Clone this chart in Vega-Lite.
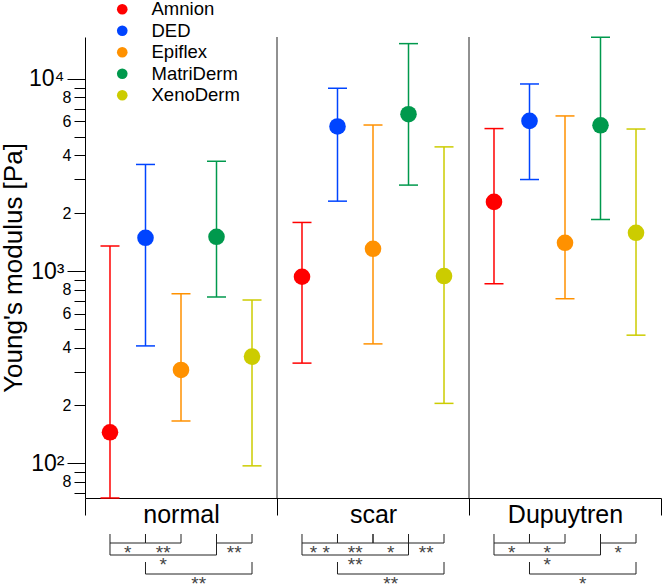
{
  "$schema": "https://vega.github.io/schema/vega-lite/v6.json",
  "width": 576,
  "height": 461,
  "padding": 0,
  "autosize": {"type": "pad"},
  "background": "white",
  "config": {
    "font": "Liberation Sans",
    "view": {"stroke": null},
    "axisX": {"tickBand": "extent", "tickSize": 17, "labelFontSize": 25, "labelPadding": -13, "domainColor": "black", "tickColor": "black", "labelColor": "black", "labelAngle": 0, "grid": false, "domainWidth": 1, "tickWidth": 1}
  },
  "datasets": {
    "moduli": [
      {"group": "normal", "series": "Amnion", "mean": 145, "lower": 66, "upper": 1350},
      {"group": "normal", "series": "DED", "mean": 1490, "lower": 408, "upper": 3585},
      {"group": "normal", "series": "Epiflex", "mean": 306, "lower": 166, "upper": 762},
      {"group": "normal", "series": "MatriDerm", "mean": 1507, "lower": 733, "upper": 3725},
      {"group": "normal", "series": "XenoDerm", "mean": 359, "lower": 97, "upper": 707},
      {"group": "scar", "series": "Amnion", "mean": 934, "lower": 332, "upper": 1790},
      {"group": "scar", "series": "DED", "mean": 5650, "lower": 2310, "upper": 8930},
      {"group": "scar", "series": "Epiflex", "mean": 1306, "lower": 418, "upper": 5750},
      {"group": "scar", "series": "MatriDerm", "mean": 6545, "lower": 2800, "upper": 15240},
      {"group": "scar", "series": "XenoDerm", "mean": 942, "lower": 205, "upper": 4425},
      {"group": "Dupuytren", "series": "Amnion", "mean": 2290, "lower": 859, "upper": 5510},
      {"group": "Dupuytren", "series": "DED", "mean": 6040, "lower": 2993, "upper": 9400},
      {"group": "Dupuytren", "series": "Epiflex", "mean": 1403, "lower": 718, "upper": 6410},
      {"group": "Dupuytren", "series": "MatriDerm", "mean": 5730, "lower": 1857, "upper": 16450},
      {"group": "Dupuytren", "series": "XenoDerm", "mean": 1581, "lower": 464, "upper": 5480}
    ],
    "brackets": [
      {"group": "normal", "a": "Amnion", "b": "DED", "tier": 1, "mid": "Amnion", "label": "*"},
      {"group": "normal", "a": "DED", "b": "Epiflex", "tier": 1, "mid": "DED", "label": "**"},
      {"group": "normal", "a": "MatriDerm", "b": "XenoDerm", "tier": 1, "mid": "MatriDerm", "label": "**"},
      {"group": "normal", "a": "Amnion", "b": "MatriDerm", "tier": 2, "mid": "DED", "label": "*"},
      {"group": "normal", "a": "DED", "b": "XenoDerm", "tier": 3, "mid": "Epiflex", "label": "**"},
      {"group": "scar", "a": "Amnion", "b": "DED", "tier": 1, "mid": "Amnion", "label": "* *"},
      {"group": "scar", "a": "DED", "b": "Epiflex", "tier": 1, "mid": "DED", "label": "**"},
      {"group": "scar", "a": "Epiflex", "b": "MatriDerm", "tier": 1, "mid": "Epiflex", "label": "*"},
      {"group": "scar", "a": "MatriDerm", "b": "XenoDerm", "tier": 1, "mid": "MatriDerm", "label": "**"},
      {"group": "scar", "a": "Amnion", "b": "MatriDerm", "tier": 2, "mid": "DED", "label": "**"},
      {"group": "scar", "a": "DED", "b": "XenoDerm", "tier": 3, "mid": "Epiflex", "label": "**"},
      {"group": "Dupuytren", "a": "Amnion", "b": "DED", "tier": 1, "mid": "Amnion", "label": "*"},
      {"group": "Dupuytren", "a": "DED", "b": "Epiflex", "tier": 1, "mid": "DED", "label": "*"},
      {"group": "Dupuytren", "a": "MatriDerm", "b": "XenoDerm", "tier": 1, "mid": "MatriDerm", "label": "*"},
      {"group": "Dupuytren", "a": "Amnion", "b": "MatriDerm", "tier": 2, "mid": "DED", "label": "*"},
      {"group": "Dupuytren", "a": "DED", "b": "XenoDerm", "tier": 3, "mid": "Epiflex", "label": "*"}
    ]
  },
  "layer": [
    {
      "data": {"name": "moduli"},
      "layer": [
        {
          "transform": [{"filter": "datum.series == 'Amnion' && datum.group != 'normal'"}],
          "mark": {"type": "rule", "color": "#222222", "strokeWidth": 1},
          "encoding": {
            "x": {"field": "group", "type": "nominal", "bandPosition": 0, "title": null, "scale": {"domain": ["normal", "scar", "Dupuytren"], "paddingInner": 0, "paddingOuter": 0}}
          }
        },
        {
          "mark": {"type": "rule", "strokeWidth": 1.5},
          "encoding": {
            "x": {"field": "group", "type": "nominal", "title": null, "scale": {"domain": ["normal", "scar", "Dupuytren"], "paddingInner": 0, "paddingOuter": 0}},
            "xOffset": {"field": "series", "type": "nominal", "scale": {"domain": ["Amnion", "DED", "Epiflex", "MatriDerm", "XenoDerm"], "paddingInner": 0, "paddingOuter": 0.204}},
            "y": {"field": "lower", "type": "quantitative", "scale": {"type": "log", "domain": [66, 16500], "nice": false},
              "axis": {"title": "Young's modulus [Pa]", "titleFontSize": 26, "titleFontWeight": "normal", "titleColor": "black", "titlePadding": 2,
                "values": [70, 80, 90, 100, 200, 300, 400, 500, 600, 700, 800, 900, 1000, 2000, 3000, 4000, 5000, 6000, 7000, 8000, 9000, 10000],
                "labelExpr": "datum.value==100?'10²':datum.value==1000?'10³':datum.value==10000?'10⁴':(datum.value==80||datum.value==800||datum.value==8000)?'8':(datum.value==200||datum.value==2000)?'2':(datum.value==400||datum.value==4000)?'4':(datum.value==600||datum.value==6000)?'6':''",
                "labelFontSize": {"condition": {"test": "datum.value==100||datum.value==1000||datum.value==10000", "value": 23}, "value": 16},
                "tickSize": {"condition": {"test": "datum.value==100||datum.value==1000||datum.value==10000", "value": 18}, "value": 11},
                "labelPadding": 3, "grid": false, "domainColor": "black", "tickColor": "black", "labelColor": "black", "labelOverlap": false, "labelFlush": false, "labelBound": false}},
            "y2": {"field": "upper"},
            "stroke": {"field": "series", "type": "nominal", "scale": {"domain": ["DED", "Amnion", "Epiflex", "MatriDerm", "XenoDerm"], "range": ["#0044ff", "#ff0000", "#ff9100", "#00994d", "#cccc00"]}, "legend": null}
          }
        },
        {
          "transform": [{"fold": ["lower", "upper"], "as": ["bound", "v"]}],
          "mark": {"type": "tick", "thickness": 1.5, "size": 19, "opacity": 1},
          "encoding": {
            "x": {"field": "group", "type": "nominal", "title": null, "scale": {"domain": ["normal", "scar", "Dupuytren"], "paddingInner": 0, "paddingOuter": 0}},
            "xOffset": {"field": "series", "type": "nominal", "scale": {"domain": ["Amnion", "DED", "Epiflex", "MatriDerm", "XenoDerm"], "paddingInner": 0, "paddingOuter": 0.204}},
            "y": {"field": "v", "type": "quantitative", "scale": {"type": "log", "domain": [66, 16500], "nice": false},
              "axis": {"title": "Young's modulus [Pa]", "titleFontSize": 26, "titleFontWeight": "normal", "titleColor": "black", "titlePadding": 2,
                "values": [70, 80, 90, 100, 200, 300, 400, 500, 600, 700, 800, 900, 1000, 2000, 3000, 4000, 5000, 6000, 7000, 8000, 9000, 10000],
                "labelExpr": "datum.value==100?'10²':datum.value==1000?'10³':datum.value==10000?'10⁴':(datum.value==80||datum.value==800||datum.value==8000)?'8':(datum.value==200||datum.value==2000)?'2':(datum.value==400||datum.value==4000)?'4':(datum.value==600||datum.value==6000)?'6':''",
                "labelFontSize": {"condition": {"test": "datum.value==100||datum.value==1000||datum.value==10000", "value": 23}, "value": 16},
                "tickSize": {"condition": {"test": "datum.value==100||datum.value==1000||datum.value==10000", "value": 18}, "value": 11},
                "labelPadding": 3, "grid": false, "domainColor": "black", "tickColor": "black", "labelColor": "black", "labelOverlap": false, "labelFlush": false, "labelBound": false}},
            "fill": {"field": "series", "type": "nominal", "scale": {"domain": ["Epiflex", "Amnion", "DED", "MatriDerm", "XenoDerm"], "range": ["#ff9100", "#ff0000", "#0044ff", "#00994d", "#cccc00"]}, "legend": null}
          }
        },
        {
          "mark": {"type": "circle", "size": 275, "opacity": 1},
          "encoding": {
            "x": {"field": "group", "type": "nominal", "title": null, "scale": {"domain": ["normal", "scar", "Dupuytren"], "paddingInner": 0, "paddingOuter": 0}},
            "xOffset": {"field": "series", "type": "nominal", "scale": {"domain": ["Amnion", "DED", "Epiflex", "MatriDerm", "XenoDerm"], "paddingInner": 0, "paddingOuter": 0.204}},
            "y": {"field": "mean", "type": "quantitative", "scale": {"type": "log", "domain": [66, 16500], "nice": false},
              "axis": {"title": "Young's modulus [Pa]", "titleFontSize": 26, "titleFontWeight": "normal", "titleColor": "black", "titlePadding": 2,
                "values": [70, 80, 90, 100, 200, 300, 400, 500, 600, 700, 800, 900, 1000, 2000, 3000, 4000, 5000, 6000, 7000, 8000, 9000, 10000],
                "labelExpr": "datum.value==100?'10²':datum.value==1000?'10³':datum.value==10000?'10⁴':(datum.value==80||datum.value==800||datum.value==8000)?'8':(datum.value==200||datum.value==2000)?'2':(datum.value==400||datum.value==4000)?'4':(datum.value==600||datum.value==6000)?'6':''",
                "labelFontSize": {"condition": {"test": "datum.value==100||datum.value==1000||datum.value==10000", "value": 23}, "value": 16},
                "tickSize": {"condition": {"test": "datum.value==100||datum.value==1000||datum.value==10000", "value": 18}, "value": 11},
                "labelPadding": 3, "grid": false, "domainColor": "black", "tickColor": "black", "labelColor": "black", "labelOverlap": false, "labelFlush": false, "labelBound": false}},
            "color": {"field": "series", "type": "nominal", "scale": {"domain": ["Amnion", "DED", "Epiflex", "MatriDerm", "XenoDerm"], "range": ["#ff0000", "#0044ff", "#ff9100", "#00994d", "#cccc00"]},
              "legend": {"orient": "none", "legendX": 28, "legendY": -37, "title": null, "labelFontSize": 18.5, "labelColor": "black", "symbolSize": 113, "symbolType": "circle", "symbolStrokeWidth": 0, "labelOffset": 20, "rowPadding": 2.5, "padding": 0}}
          }
        }
      ]
    },
    {
      "data": {"name": "brackets"},
      "layer": [
        {
          "transform": [{"fold": ["a", "b"], "as": ["end", "member"]}],
          "mark": {"type": "line", "color": "#222222", "strokeWidth": 1},
          "encoding": {
            "x": {"field": "group", "type": "nominal", "title": null, "scale": {"domain": ["normal", "scar", "Dupuytren"], "paddingInner": 0, "paddingOuter": 0}},
            "xOffset": {"field": "member", "type": "nominal", "scale": {"domain": ["Amnion", "DED", "Epiflex", "MatriDerm", "XenoDerm"], "paddingInner": 0, "paddingOuter": 0.204}},
            "y": {"field": "tier", "type": "quantitative", "scale": {"domain": [1, 2, 3], "range": [506, 518, 537], "nice": false, "zero": false}, "axis": null},
            "detail": [{"field": "group", "type": "nominal"}, {"field": "a", "type": "nominal"}, {"field": "b", "type": "nominal"}]
          }
        },
        {
          "transform": [{"filter": "datum.tier == 1"}, {"fold": ["a", "b"], "as": ["end", "member"]}],
          "mark": {"type": "rule", "color": "#222222", "strokeWidth": 1, "y2Offset": -9},
          "encoding": {
            "x": {"field": "group", "type": "nominal", "title": null, "scale": {"domain": ["normal", "scar", "Dupuytren"], "paddingInner": 0, "paddingOuter": 0}},
            "xOffset": {"field": "member", "type": "nominal", "scale": {"domain": ["Amnion", "DED", "Epiflex", "MatriDerm", "XenoDerm"], "paddingInner": 0, "paddingOuter": 0.204}},
            "y": {"field": "tier", "type": "quantitative", "scale": {"domain": [1, 2, 3], "range": [506, 518, 537], "nice": false, "zero": false}, "axis": null},
            "y2": {"field": "tier"}
          }
        },
        {
          "transform": [{"filter": "datum.tier == 2"}, {"fold": ["a", "b"], "as": ["end", "member"]}],
          "mark": {"type": "rule", "color": "#222222", "strokeWidth": 1, "y2Offset": -12},
          "encoding": {
            "x": {"field": "group", "type": "nominal", "title": null, "scale": {"domain": ["normal", "scar", "Dupuytren"], "paddingInner": 0, "paddingOuter": 0}},
            "xOffset": {"field": "member", "type": "nominal", "scale": {"domain": ["Amnion", "DED", "Epiflex", "MatriDerm", "XenoDerm"], "paddingInner": 0, "paddingOuter": 0.204}},
            "y": {"field": "tier", "type": "quantitative", "scale": {"domain": [1, 2, 3], "range": [506, 518, 537], "nice": false, "zero": false}, "axis": null},
            "y2": {"field": "tier"}
          }
        },
        {
          "transform": [{"filter": "datum.tier == 3"}, {"fold": ["a", "b"], "as": ["end", "member"]}],
          "mark": {"type": "rule", "color": "#222222", "strokeWidth": 1, "y2Offset": -12},
          "encoding": {
            "x": {"field": "group", "type": "nominal", "title": null, "scale": {"domain": ["normal", "scar", "Dupuytren"], "paddingInner": 0, "paddingOuter": 0}},
            "xOffset": {"field": "member", "type": "nominal", "scale": {"domain": ["Amnion", "DED", "Epiflex", "MatriDerm", "XenoDerm"], "paddingInner": 0, "paddingOuter": 0.204}},
            "y": {"field": "tier", "type": "quantitative", "scale": {"domain": [1, 2, 3], "range": [506, 518, 537], "nice": false, "zero": false}, "axis": null},
            "y2": {"field": "tier"}
          }
        },
        {
          "mark": {"type": "text", "fontSize": 19, "color": "#444444", "baseline": "alphabetic", "align": "center", "dx": 17.75, "dy": 16},
          "encoding": {
            "x": {"field": "group", "type": "nominal", "title": null, "scale": {"domain": ["normal", "scar", "Dupuytren"], "paddingInner": 0, "paddingOuter": 0}},
            "xOffset": {"field": "mid", "type": "nominal", "scale": {"domain": ["Amnion", "DED", "Epiflex", "MatriDerm", "XenoDerm"], "paddingInner": 0, "paddingOuter": 0.204}},
            "y": {"field": "tier", "type": "quantitative", "scale": {"domain": [1, 2, 3], "range": [506, 518, 537], "nice": false, "zero": false}, "axis": null},
            "text": {"field": "label"}
          }
        }
      ]
    }
  ],
  "resolve": {"scale": {"y": "independent"}}
}
